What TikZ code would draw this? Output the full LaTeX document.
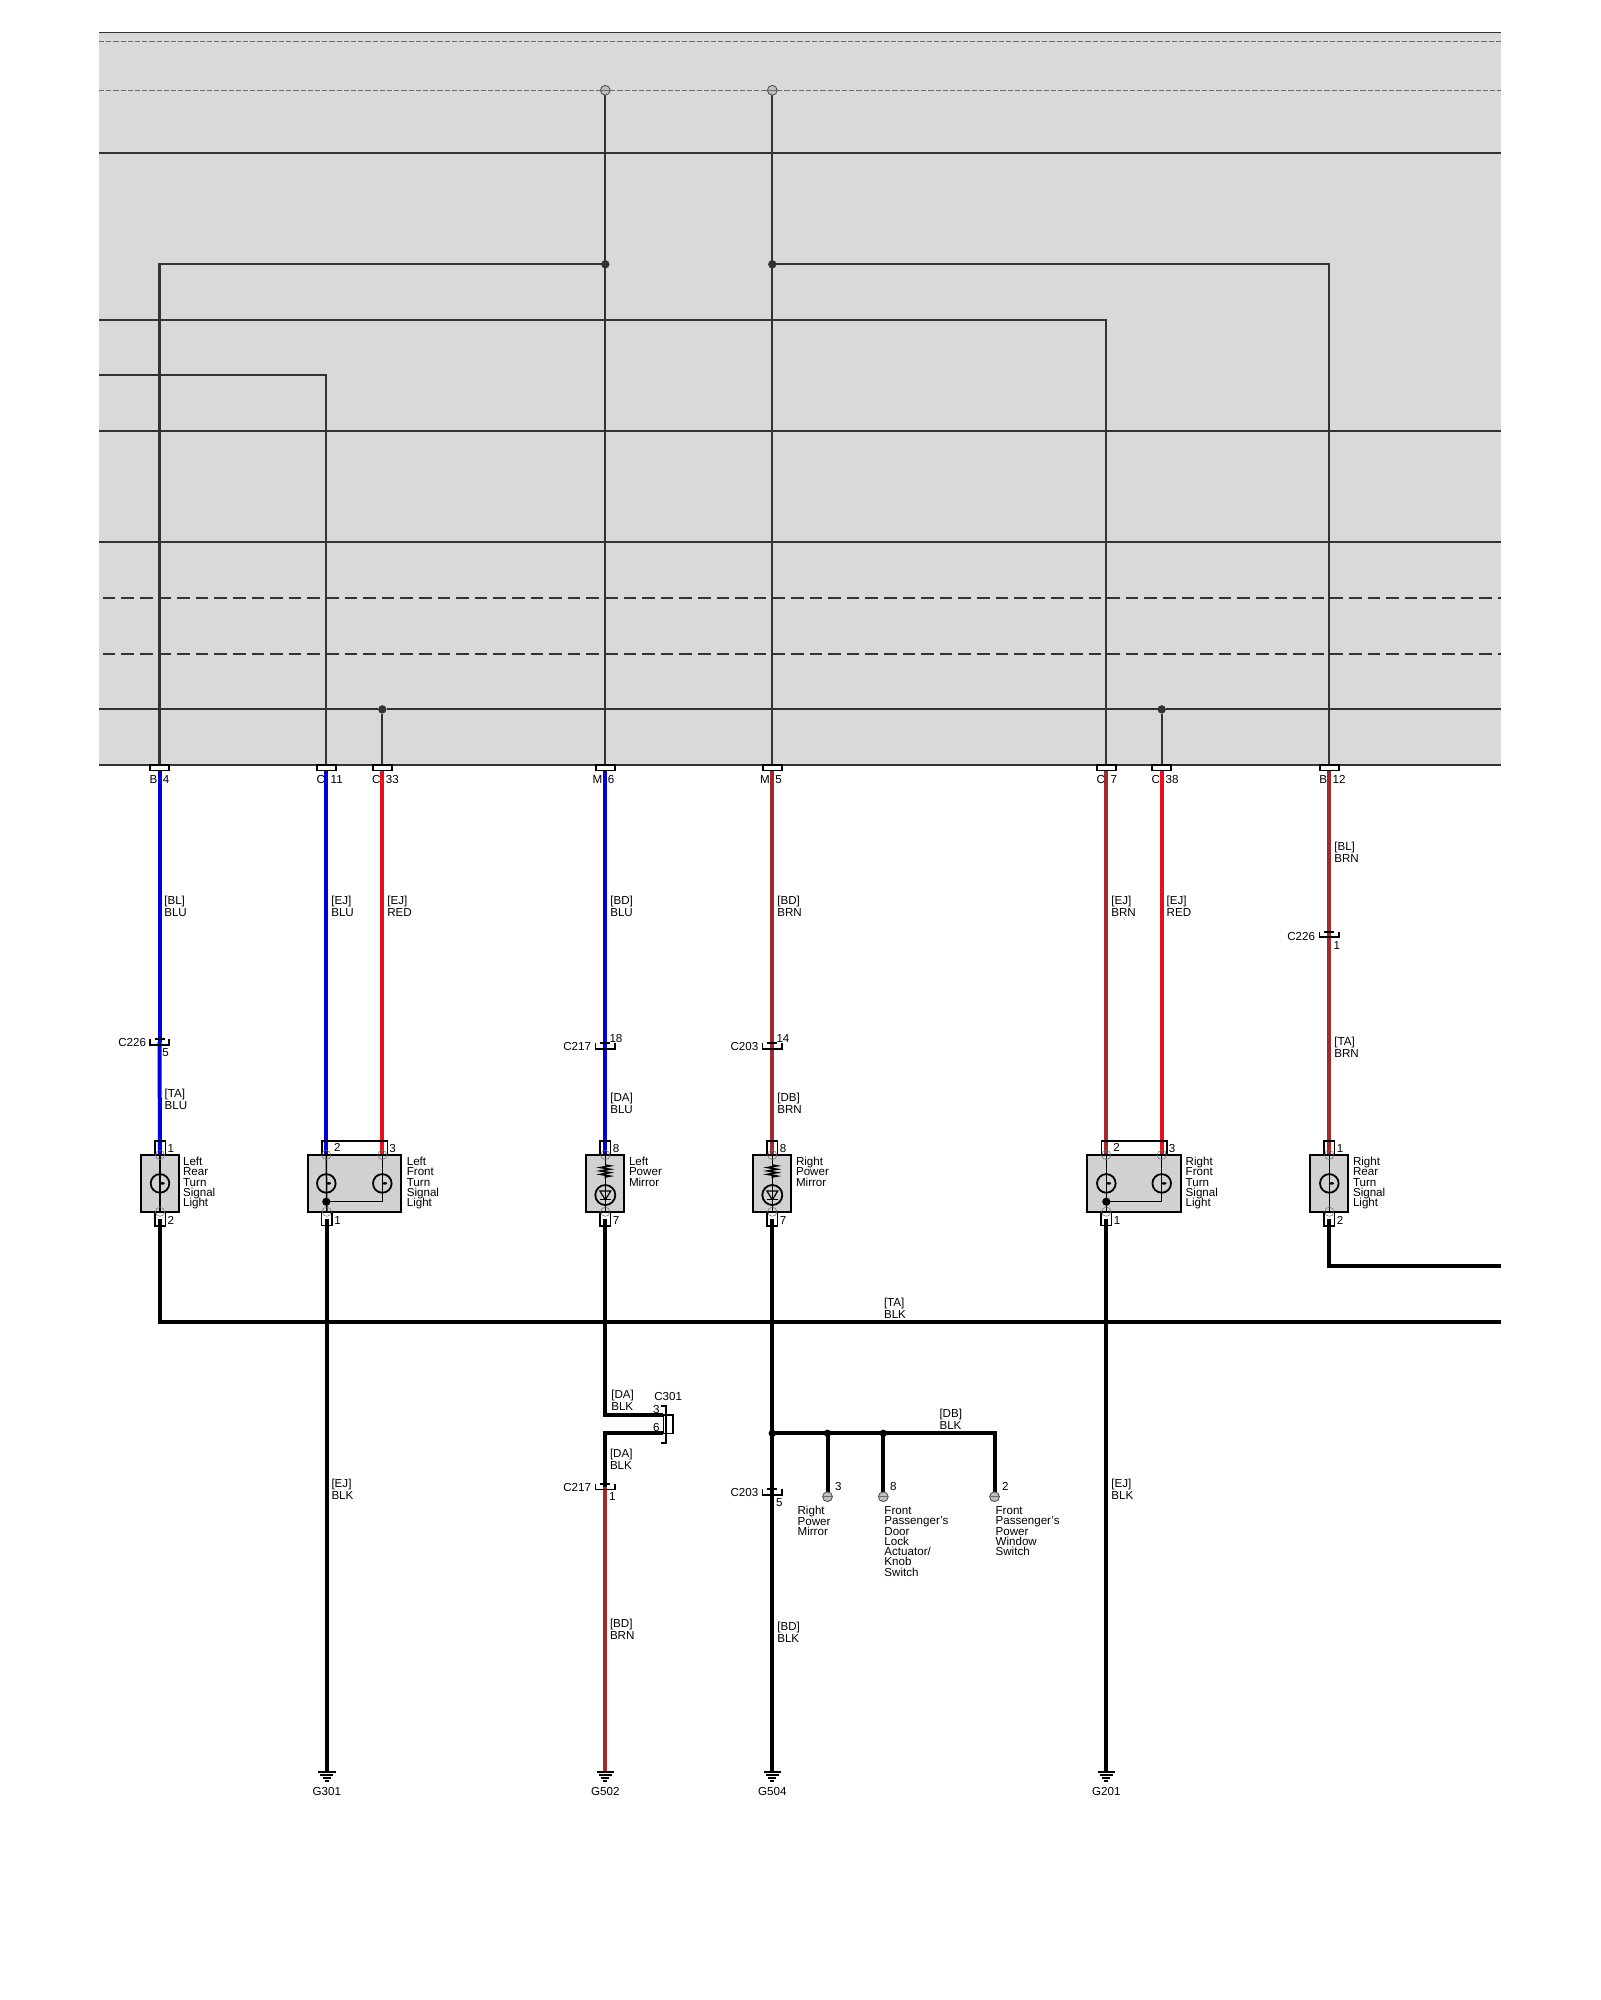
\documentclass[tikz,border=0pt]{standalone}
\usepackage{fontspec}
\setmainfont{Liberation Sans}
\usetikzlibrary{positioning,decorations.pathmorphing}
\pgfdeclarelayer{background1}
\pgfdeclarelayer{background2}
\pgfsetlayers{background2,background1,main}
\normallineskiplimit=-10pt
\lineskiplimit=-10pt

\tikzset{
	panelline/.style={line width=1.05pt,draw=linecolor},
	thindash/.style={line width=0.4pt,draw=dashcolor,dash pattern=on 2.6pt off 1pt},
	thickdash/.style={line width=1pt,draw=linecolor,dash pattern=on 6.3pt off 3pt},
	wirewidth/.style={line width=2pt},
	innerwire/.style={line width=0.75pt,draw=black},
	headerpin/.style={draw=black,fill=white,line width=0.9pt,minimum width=9.6pt,minimum height=2.75pt,inner sep=0pt,outer sep=0pt},
	pinbox/.style={draw=black,line width=0.75pt,minimum width=5.25pt,minimum height=7pt,inner sep=0pt,outer sep=0pt},
	pinbar/.style={draw=black,line width=0.75pt,minimum width=32.85pt,minimum height=7pt,inner sep=0pt,outer sep=0pt},
	devicebox/.style={draw=black,fill=boxcolor,line width=0.9pt,minimum height=28.35pt,inner sep=0pt,outer sep=0pt},
	lampmark/.style={circle,draw=black,line width=0.9pt,minimum size=9.3pt,inner sep=0pt,outer sep=0pt},
	ledmark/.style={circle,draw=black,line width=0.9pt,minimum size=10pt,inner sep=0pt,outer sep=0pt},
	junction/.style={circle,fill=black,minimum size=3.7pt,inner sep=0pt,outer sep=0pt},
	paneldot/.style={circle,fill=linecolor,minimum size=4.2pt,inner sep=0pt,outer sep=0pt},
	endpin/.style={circle,draw=edgecolor,fill=endcolor,line width=0.4pt,minimum size=4.9pt,inner sep=0pt,outer sep=0pt},
	splicebox/.style={minimum width=9.7pt,minimum height=2.75pt,inner sep=0pt,outer sep=0pt},
	groundbox/.style={minimum width=8.7pt,minimum height=4.5pt,inner sep=0pt,outer sep=0pt},
	jointmark/.style={line width=0.25pt,draw=dashcolor},
	pinlabel/.style={inner sep=0pt,outer sep=0pt,font=\fontsize{5.8}{6}\selectfont},
	wirelabel/.style={inner sep=0pt,outer sep=0pt,align=left,anchor=north west,font=\fontsize{5.8}{6}\selectfont},
	devlabel/.style={inner sep=0pt,outer sep=0pt,align=left,font=\fontsize{5.8}{5.13}\selectfont},
}

\newcommand{\splicemark}[1]{
	\draw[line width=0.8pt] (#1.north west) -- (#1.south west) -- (#1.south east) -- (#1.north east);
	\draw[line width=0.8pt] ([xshift=-2.5pt]#1.north) -- ([xshift=2.5pt]#1.north);
}
\newcommand{\groundmark}[1]{
	\draw[line width=0.8pt] (#1.north west) -- (#1.north east);
	\draw[line width=0.8pt] ([xshift=1.1pt,yshift=-1.6pt]#1.north west) -- ([xshift=-1.1pt,yshift=-1.6pt]#1.north east);
	\draw[line width=0.8pt] ([xshift=2.3pt,yshift=-3pt]#1.north west) -- ([xshift=-2.3pt,yshift=-3pt]#1.north east);
	\draw[line width=0.8pt] ([xshift=3.3pt]#1.south west) -- ([xshift=-3.3pt]#1.south east);
}
\newcommand{\filament}[1]{
	\fill ([xshift=1.2pt]#1.center) ellipse (1.2pt and 0.65pt);
}
\newcommand{\ledsign}[1]{
	\draw[line width=0.6pt] ([xshift=-2.7pt,yshift=2pt]#1.center) -- ([xshift=2.7pt,yshift=2pt]#1.center) -- ([yshift=-2.4pt]#1.center) -- cycle;
	\draw[line width=0.6pt] ([xshift=-2.7pt,yshift=-2.4pt]#1.center) -- ([xshift=2.7pt,yshift=-2.4pt]#1.center);
}
\newcommand{\pingap}{\hspace{1.2pt}}

\begin{document}
\begin{tikzpicture}[x=0.5pt,y=-0.5pt]

	\definecolor{linecolor}{rgb}{0.20,0.20,0.20}
	\definecolor{dashcolor}{rgb}{0.42,0.42,0.42}
	\definecolor{edgecolor}{rgb}{0.28,0.28,0.28}
	\definecolor{panelcolor}{rgb}{0.85,0.85,0.85}
	\definecolor{boxcolor}{rgb}{0.82,0.82,0.82}
	\definecolor{endcolor}{rgb}{0.75,0.75,0.75}
	\definecolor{bluewire}{rgb}{0.00,0.00,0.86}
	\definecolor{redwire}{rgb}{0.92,0.06,0.11}
	\definecolor{brownwire}{rgb}{0.64,0.16,0.17}

	\useasboundingbox (0,0) rectangle (1600,2000);

	% panel ends
	\coordinate (pnlNW) at (99,32.5);
	\coordinate (pnlSE) at (1501,765);
	\coordinate (endTB) at (1501,1266);
	\coordinate (endBus) at (1501,1322);

	% header pins
	\node(hB4)[headerpin] at (159.5,767.8){};
	\node(hC11)[headerpin] at (326.3,767.8){};
	\node(hC33)[headerpin] at (382.3,767.8){};
	\node(hM6)[headerpin] at (605.3,767.8){};
	\node(hM5)[headerpin] at (772.3,767.8){};
	\node(hC7)[headerpin] at (1106.3,767.8){};
	\node(hC38)[headerpin] at (1161.7,767.8){};
	\node(hB12)[headerpin] at (1329.3,767.8){};

	\node(tB4)[pinlabel,anchor=base west] at (149.5,783){B \pingap4};
	\node(tC11)[pinlabel,anchor=base west] at (316.7,783){C \pingap11};
	\node(tC33)[pinlabel,anchor=base west] at (372,783){C \pingap33};
	\node(tM6)[pinlabel,anchor=base west] at (592.6,783){M \pingap6};
	\node(tM5)[pinlabel,anchor=base west] at (760,783){M \pingap5};
	\node(tC7)[pinlabel,anchor=base west] at (1096.5,783){C \pingap7};
	\node(tC38)[pinlabel,anchor=base west] at (1151.7,783){C \pingap38};
	\node(tB12)[pinlabel,anchor=base west] at (1319.3,783){B \pingap12};

	% panel feed points
	\node(fL)[endpin] at (605.3,90.3){};
	\node(fR)[endpin] at (772.3,90.3){};
	\node(jL)[paneldot] at (605.3,264.3){};
	\node(jR)[paneldot] at (772.3,264.3){};
	\node(jC33)[paneldot] at (382.3,709.4){};
	\node(jC38)[paneldot] at (1161.7,709.4){};

	% left rear lamp
	\node(boxLR)[devicebox,minimum width=18.85pt] at (160,1183.4){};
	\node(pLRt)[pinbox,above=0pt of boxLR]{};
	\node(pLRb)[pinbox,below=0pt of boxLR]{};
	\node(lLR)[lampmark] at (boxLR.center){};
	\node(n1a)[pinlabel,right=1.2pt of pLRt]{1};
	\node(n1b)[pinlabel,right=1.2pt of pLRb,yshift=-1pt]{2};
	\node(tLR)[devlabel,below right=1.1pt and 2.1pt of boxLR.north east]{Left\\Rear\\Turn\\Signal\\Light};

	% left front lamp
	\node(boxLF)[devicebox,minimum width=46.3pt] at (354.5,1183.4){};
	\node(pLFt)[pinbar] at (354.8,1148){};
	\node(pLFb)[pinbox] at (326.8,1218.7){};
	\node(lLFa)[lampmark] at (326.3,1183.4){};
	\node(lLFb)[lampmark] at (382.3,1183.4){};
	\node(dLF)[junction,minimum size=4.1pt] at (326.3,1201.7){};
	\node(n2a)[pinlabel,anchor=west] at (334,1147){2};
	\node(n2b)[pinlabel,right=0.9pt of pLFt.east]{3};
	\node(n2c)[pinlabel,right=1.2pt of pLFb,yshift=-1pt]{1};
	\node(tLF)[devlabel,below right=1.1pt and 3pt of boxLF.north east]{Left\\Front\\Turn\\Signal\\Light};

	% left mirror
	\node(boxLP)[devicebox,minimum width=19pt] at (605.3,1183.4){};
	\node(pLPt)[pinbox,above=0pt of boxLP]{};
	\node(pLPb)[pinbox,below=0pt of boxLP]{};
	\node(lLP)[ledmark] at (605.3,1195){};
	\coordinate (rLPa) at (605.3,1165);
	\coordinate (rLPb) at (605.3,1178.3);
	\node(n3a)[pinlabel,right=1.2pt of pLPt]{8};
	\node(n3b)[pinlabel,right=1.2pt of pLPb,yshift=-1pt]{7};
	\node(tLP)[devlabel,below right=1.1pt and 2.35pt of boxLP.north east]{Left\\Power\\Mirror};

	% right mirror
	\node(boxRP)[devicebox,minimum width=19pt] at (772.3,1183.4){};
	\node(pRPt)[pinbox,above=0pt of boxRP]{};
	\node(pRPb)[pinbox,below=0pt of boxRP]{};
	\node(lRP)[ledmark] at (772.3,1195){};
	\coordinate (rRPa) at (772.3,1165);
	\coordinate (rRPb) at (772.3,1178.3);
	\node(n4a)[pinlabel,right=1.2pt of pRPt]{8};
	\node(n4b)[pinlabel,right=1.2pt of pRPb,yshift=-1pt]{7};
	\node(tRP)[devlabel,below right=1.1pt and 2.35pt of boxRP.north east]{Right\\Power\\Mirror};

	% right front lamp
	\node(boxRF)[devicebox,minimum width=46.7pt] at (1134,1183.4){};
	\node(pRFt)[pinbar] at (1134.2,1148){};
	\node(pRFb)[pinbox] at (1106.3,1218.7){};
	\node(lRFa)[lampmark] at (1106.3,1183.4){};
	\node(lRFb)[lampmark] at (1161.7,1183.4){};
	\node(dRF)[junction,minimum size=4.1pt] at (1106.3,1201.7){};
	\node(n5a)[pinlabel,anchor=west] at (1113.3,1147){2};
	\node(n5b)[pinlabel,right=0.9pt of pRFt.east]{3};
	\node(n5c)[pinlabel,right=1.2pt of pRFb,yshift=-1pt]{1};
	\node(tRF)[devlabel,below right=1.1pt and 2.5pt of boxRF.north east]{Right\\Front\\Turn\\Signal\\Light};

	% right rear lamp
	\node(boxRR)[devicebox,minimum width=19pt] at (1329.3,1183.4){};
	\node(pRRt)[pinbox,above=0pt of boxRR]{};
	\node(pRRb)[pinbox,below=0pt of boxRR]{};
	\node(lRR)[lampmark] at (boxRR.center){};
	\node(n6a)[pinlabel,right=1.2pt of pRRt]{1};
	\node(n6b)[pinlabel,right=1.2pt of pRRb,yshift=-1pt]{2};
	\node(tRR)[devlabel,below right=1.1pt and 2.35pt of boxRR.north east]{Right\\Rear\\Turn\\Signal\\Light};

	% inline connectors
	\node(cC226L)[splicebox] at (159.5,1042){};
	\node(tC226L)[pinlabel,anchor=base east] at (146,1046){C226};
	\node(nC226L)[pinlabel,anchor=base west] at (162.3,1056){5};
	\node(cC226R)[splicebox] at (1329.3,934.5){};
	\node(tC226R)[pinlabel,anchor=base east] at (1315,940){C226};
	\node(nC226R)[pinlabel,anchor=base west] at (1333.7,949){1};
	\node(cC217u)[splicebox] at (605.3,1046){};
	\node(tC217u)[pinlabel,anchor=base east] at (591,1050){C217};
	\node(nC217u)[pinlabel,anchor=base west] at (609.5,1042){18};
	\node(cC203u)[splicebox] at (772.3,1046){};
	\node(tC203u)[pinlabel,anchor=base east] at (758.3,1050){C203};
	\node(nC203u)[pinlabel,anchor=base west] at (776.5,1042){14};
	\node(cC217d)[splicebox] at (605.3,1486.7){};
	\node(tC217d)[pinlabel,anchor=base east] at (591,1491.7){C217};
	\node(nC217d)[pinlabel,anchor=base west] at (609,1500.7){1};
	\node(cC203d)[splicebox] at (772.3,1492){};
	\node(tC203d)[pinlabel,anchor=base east] at (758.3,1496){C203};
	\node(nC203d)[pinlabel,anchor=base west] at (776,1506){5};

	% C301
	\node(cC301)[draw=black,line width=0.8pt,minimum width=4.85pt,minimum height=9.15pt,inner sep=0pt,outer sep=0pt] at (668.2,1424.2){};
	\coordinate (bC301a) at (660.5,1406);
	\coordinate (bC301b) at (665.7,1443);
	\node(tC301)[pinlabel,anchor=base west] at (654.3,1400.7){C301};
	\node(nC301a)[pinlabel,anchor=base east] at (659.5,1413){3};
	\node(nC301b)[pinlabel,anchor=base east] at (659.5,1431.7){6};

	% branch to the other loads
	\node(jB0)[junction] at (772.3,1433.3){};
	\node(jB1)[junction] at (827.5,1433.3){};
	\node(jB2)[junction] at (883.3,1433.3){};
	\node(eB1)[endpin] at (827.5,1496.7){};
	\node(eB2)[endpin] at (883.3,1496.7){};
	\node(eB3)[endpin] at (994.5,1496.7){};
	\node(nB1)[pinlabel,anchor=base west] at (835,1490){3};
	\node(nB2)[pinlabel,anchor=base west] at (890,1490){8};
	\node(nB3)[pinlabel,anchor=base west] at (1002,1490){2};
	\node(tB1)[devlabel,anchor=north west] at (797.6,1506.5){Right\\Power\\Mirror};
	\node(tB2)[devlabel,anchor=north west] at (884.4,1506.5){Front\\Passenger's\\Door\\Lock\\Actuator/\\Knob\\Switch};
	\node(tB3)[devlabel,anchor=north west] at (995.6,1506.5){Front\\Passenger's\\Power\\Window\\Switch};

	% grounds
	\node(gG301)[groundbox] at (326.8,1776.2){};
	\node(tG301)[pinlabel,below=3.3pt of gG301]{G301};
	\node(gG502)[groundbox] at (605.3,1776.2){};
	\node(tG502)[pinlabel,below=3.3pt of gG502]{G502};
	\node(gG504)[groundbox] at (772.3,1776.2){};
	\node(tG504)[pinlabel,below=3.3pt of gG504]{G504};
	\node(gG201)[groundbox] at (1106.3,1776.2){};
	\node(tG201)[pinlabel,below=3.3pt of gG201]{G201};

	% wire labels
	\node(wl1)[wirelabel] at (164.3,896.2){[BL]\\BLU};
	\node(wl2)[wirelabel] at (331.3,896.2){[EJ]\\BLU};
	\node(wl3)[wirelabel] at (387.3,896.2){[EJ]\\RED};
	\node(wl4)[wirelabel] at (610.3,896.2){[BD]\\BLU};
	\node(wl5)[wirelabel] at (777.3,896.2){[BD]\\BRN};
	\node(wl6)[wirelabel] at (1111.3,896.2){[EJ]\\BRN};
	\node(wl7)[wirelabel] at (1166.7,896.2){[EJ]\\RED};
	\node(wl8)[wirelabel] at (1334.3,842.2){[BL]\\BRN};
	\node(wl9)[wirelabel] at (164.7,1089){[TA]\\BLU};
	\node(wl10)[wirelabel] at (610.3,1093.5){[DA]\\BLU};
	\node(wl11)[wirelabel] at (777.3,1093.5){[DB]\\BRN};
	\node(wl12)[wirelabel] at (1334.3,1037){[TA]\\BRN};
	\node(wl13)[wirelabel] at (884,1298.5){[TA]\\BLK};
	\node(wl14)[wirelabel] at (611.3,1389.8){[DA]\\BLK};
	\node(wl15)[wirelabel] at (610,1449.5){[DA]\\BLK};
	\node(wl16)[wirelabel] at (939.5,1408.8){[DB]\\BLK};
	\node(wl17)[wirelabel] at (331.5,1479.5){[EJ]\\BLK};
	\node(wl18)[wirelabel] at (1111.3,1479.5){[EJ]\\BLK};
	\node(wl19)[wirelabel] at (610,1619.5){[BD]\\BRN};
	\node(wl20)[wirelabel] at (777.3,1622){[BD]\\BLK};

	\begin{pgfonlayer}{background2}
		\fill[panelcolor] (pnlNW) rectangle (pnlSE);
		\draw[panelline,line width=0.6pt] (pnlNW) -- (pnlNW -| pnlSE);
		\draw[panelline,line width=0.7pt] (pnlNW |- pnlSE) -- (pnlSE);
		\draw[thindash] (99,41) -- (1501,41);
		\draw[thindash] (99,90.3) -- (fL) -- (fR) -- (1501,90.3);
		\draw[panelline] (99,153.3) -- (1501,153.3);
		\draw[panelline] (99,320.2) -| (hC7.north);
		\draw[panelline] (99,375.3) -| (hC11.north);
		\draw[panelline] (99,431) -- (1501,431);
		\draw[panelline] (99,542.3) -- (1501,542.3);
		\draw[thickdash] (102.7,598) -- (1501,598);
		\draw[thickdash] (102.7,654) -- (1501,654);
		\draw[panelline] (99,709.4) -- (jC33) -- (jC38) -- (1501,709.4);
		\draw[panelline] (fL) -- (hM6.north);
		\draw[panelline] (fR) -- (hM5.north);
		\draw[panelline] (jL.center) -| (hB4.north);
		\draw[panelline] (jR.center) -| (hB12.north);
		\draw[panelline] (jC33) -- (hC33.north);
		\draw[panelline] (jC38) -- (hC38.north);
	\end{pgfonlayer}

	\begin{pgfonlayer}{background1}
		\draw[wirewidth,bluewire] (hB4.south) -- (cC226L.center);
		\draw[wirewidth,bluewire] (cC226L.center) -- (pLRt.south);
		\draw[wirewidth,bluewire] (hC11.south) -- (hC11.south |- pLFt.south);
		\draw[wirewidth,redwire] (hC33.south) -- (hC33.south |- pLFt.south);
		\draw[wirewidth,bluewire] (hM6.south) -- (cC217u.center);
		\draw[wirewidth,bluewire] (cC217u.center) -- (pLPt.south);
		\draw[wirewidth,brownwire] (hM5.south) -- (cC203u.center);
		\draw[wirewidth,brownwire] (cC203u.center) -- (pRPt.south);
		\draw[wirewidth,brownwire] (hC7.south) -- (hC7.south |- pRFt.south);
		\draw[wirewidth,redwire] (hC38.south) -- (hC38.south |- pRFt.south);
		\draw[wirewidth,brownwire] (hB12.south) -- (cC226R.center);
		\draw[wirewidth,brownwire] (cC226R.center) -- (pRRt.south);
		\draw[wirewidth,brownwire] (cC217d.center) -- (gG502.north);

		\draw[wirewidth] (pLRb.center) |- (endBus);
		\draw[wirewidth] (pRRb.center) |- (endTB);
		\draw[wirewidth] (pLFb.center) -- (gG301.north);
		\draw[wirewidth] (pRFb.center) -- (gG201.north);
		\draw[wirewidth] (pLPb.center) |- (cC301.north west);
		\draw[wirewidth] (cC301.south west) -| (cC217d.center);
		\draw[wirewidth] (pRPb.center) -- (jB0.center);
		\draw[wirewidth] (jB0.center) -- (cC203d.center);
		\draw[wirewidth] (cC203d.center) -- (gG504.north);
		\draw[wirewidth] (jB0.center) -- (jB1.center) -- (jB2.center) -| (eB3.north);
		\draw[wirewidth] (jB1.center) -- (eB1.north);
		\draw[wirewidth] (jB2.center) -- (eB2.north);
	\end{pgfonlayer}

	% inside the devices
	\draw[innerwire] (pLRt.south) -- (pLRb.north);
	\draw[innerwire] (pRRt.south) -- (pRRb.north);
	\draw[innerwire] (hC11.south |- pLFt.south) -- (pLFb.north);
	\draw[innerwire] (hC33.south |- pLFt.south) -- (lLFb.center);
	\draw[innerwire] (dLF.center) -| (lLFb.center);
	\draw[innerwire] (hC7.south |- pRFt.south) -- (pRFb.north);
	\draw[innerwire] (hC38.south |- pRFt.south) -- (lRFb.center);
	\draw[innerwire] (dRF.center) -| (lRFb.center);
	\draw[innerwire] (pLPt.south) -- (rLPa);
	\draw[innerwire] (rLPb) -- (pLPb.north);
	\draw[innerwire] (pRPt.south) -- (rRPa);
	\draw[innerwire] (rRPb) -- (pRPb.north);
	\draw[innerwire,decorate,decoration={zigzag,segment length=1.7pt,amplitude=2.4pt}] (rLPa) -- (rLPb);
	\draw[innerwire,decorate,decoration={zigzag,segment length=1.7pt,amplitude=2.4pt}] (rRPa) -- (rRPb);
	\filament{lLR}
	\filament{lRR}
	\filament{lLFa}
	\filament{lLFb}
	\filament{lRFa}
	\filament{lRFb}
	\ledsign{lLP}
	\ledsign{lRP}

	% pin joints
	\draw[jointmark] (pLRt.south) circle (2.3pt) (pLRb.north) circle (2.3pt);
	\draw[jointmark] (pRRt.south) circle (2.3pt) (pRRb.north) circle (2.3pt);
	\draw[jointmark] (pLPt.south) circle (2.3pt) (pLPb.north) circle (2.3pt);
	\draw[jointmark] (pRPt.south) circle (2.3pt) (pRPb.north) circle (2.3pt);
	\draw[jointmark] (hC11.south |- pLFt.south) circle (2.3pt) (hC33.south |- pLFt.south) circle (2.3pt) (pLFb.north) circle (2.3pt);
	\draw[jointmark] (hC7.south |- pRFt.south) circle (2.3pt) (hC38.south |- pRFt.south) circle (2.3pt) (pRFb.north) circle (2.3pt);
	\draw[jointmark] (fL.west) -- (fL.east) (fR.west) -- (fR.east) (eB1.west) -- (eB1.east) (eB2.west) -- (eB2.east) (eB3.west) -- (eB3.east);

	\splicemark{cC226L}
	\splicemark{cC226R}
	\splicemark{cC217u}
	\splicemark{cC203u}
	\splicemark{cC217d}
	\splicemark{cC203d}
	\draw[line width=0.8pt] (bC301a) -| (bC301b) -- (bC301a |- bC301b);

	\groundmark{gG301}
	\groundmark{gG502}
	\groundmark{gG504}
	\groundmark{gG201}

\end{tikzpicture}
\end{document}
